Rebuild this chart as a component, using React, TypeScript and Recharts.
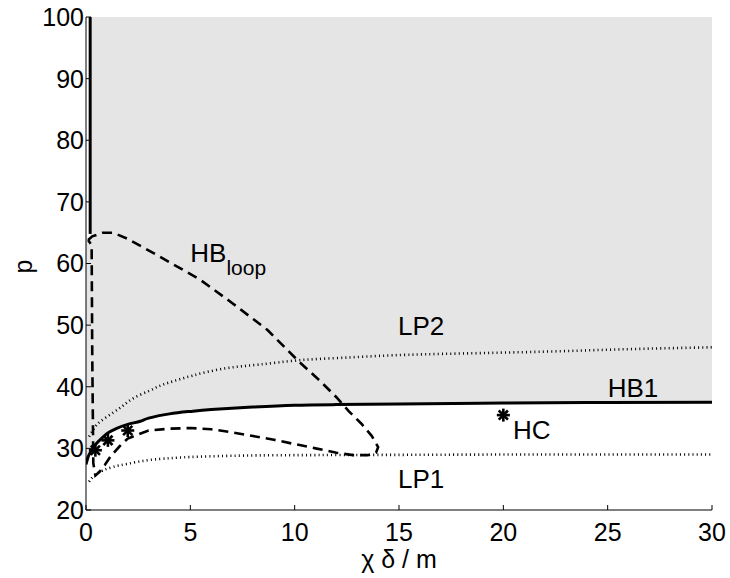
import React from "react";
import { Area, ComposedChart, Line, ReferenceDot, Scatter, XAxis, YAxis } from "recharts";

// HB1 (solid) boundary of the shaded region
const hb1X = [0, 0.1, 0.2, 0.35, 0.5, 0.8, 1.1, 1.5, 2, 2.6, 3, 4, 5, 6, 8, 10, 12, 15, 20, 25, 30];
const hb1P = [27.4, 28.6, 29.3, 30.1, 30.8, 31.8, 32.6, 33.3, 33.9, 34.4, 34.9, 35.6, 36.0, 36.3, 36.7, 37.0, 37.1, 37.2, 37.35, 37.45, 37.5];

// vertical solid branch near the p axis
const wallX = [0.2, 0.2];
const wallP = [64.8, 100];

// HB loop (dashed), closed parametric curve
const loopX = [0.1, 0.3, 0.8, 1.3, 2.0, 3.5, 5.5, 7.0, 8.7, 10.2, 11.2, 12.0, 12.6, 13.2, 13.7, 14.0, 13.9, 13.5, 12.8, 12.0, 11.0, 10.0, 9.0, 8.0, 7.0, 6.0, 5.0, 4.0, 3.0, 2.0, 1.6, 1.2, 0.9, 0.65, 0.45, 0.35, 0.3, 0.27, 0.1];
const loopP = [63.8, 64.4, 65.0, 65.0, 64.0, 61.2, 57.3, 53.6, 49.2, 44.1, 41.0, 38.3, 36.0, 34.0, 32.0, 30.2, 29.3, 28.9, 28.9, 29.3, 30.0, 30.7, 31.4, 32.0, 32.6, 33.1, 33.3, 33.2, 32.9, 31.6, 30.3, 28.8, 27.3, 26.2, 25.6, 27.6, 45.0, 63.0, 63.8];

// limit points (dotted)
const lp2X = [0.15, 0.4, 0.7, 1.3, 1.8, 2.3, 3.0, 3.5, 4.0, 5.1, 6.7, 8.3, 10.2, 12.3, 14.7, 18, 22, 26, 30];
const lp2P = [31.9, 33.3, 34.4, 35.8, 37.0, 38.2, 39.3, 40.1, 40.7, 41.8, 43.0, 43.6, 44.3, 44.7, 45.1, 45.4, 45.7, 46.1, 46.4];
const lp1X = [0.15, 0.4, 0.8, 1.3, 2.0, 3.0, 4.0, 5.0, 7, 10, 15, 20, 25, 30];
const lp1P = [24.6, 25.6, 26.4, 27.0, 27.5, 28.1, 28.4, 28.6, 28.8, 28.9, 28.95, 29.0, 29.0, 29.0];

// special points (asterisks)
const starX = [0.45, 1.05, 2.0, 20.0];
const starP = [29.7, 31.3, 32.9, 35.4];

const xTicks = [0, 5, 10, 15, 20, 25, 30];
const yTicks = [20, 30, 40, 50, 60, 70, 80, 90, 100];

const FONT = "'Liberation Sans', Arial, Helvetica, sans-serif";

const pts = (xs: number[], ps: number[]) => xs.map((x, i) => ({ x, p: ps[i] }));

const shadeTop = 64;
const bandData: { x: number; band: number[] }[] = [];
hb1X.forEach((x, i) => {
  const p = hb1P[i];
  if (x < wallX[0]) bandData.push({ x, band: [p, shadeTop] });
  else if (x === wallX[0]) {
    bandData.push({ x, band: [p, shadeTop] });
    bandData.push({ x, band: [p, 100] });
  } else bandData.push({ x, band: [p, 100] });
});

const Asterisk = (props: any) => {
  const { cx, cy } = props;
  const r = 6.5;
  const d = r * 0.707;
  return (
    <g stroke="#000" strokeWidth={2.6} strokeLinecap="butt">
      <line x1={cx - r} y1={cy} x2={cx + r} y2={cy} />
      <line x1={cx} y1={cy - r} x2={cx} y2={cy + r} />
      <line x1={cx - d} y1={cy - d} x2={cx + d} y2={cy + d} />
      <line x1={cx - d} y1={cy + d} x2={cx + d} y2={cy - d} />
    </g>
  );
};

const Ann = (props: any) => {
  const { viewBox, text, sub } = props;
  return (
    <text x={viewBox.x} y={viewBox.y} fontFamily={FONT} fontSize={26} fill="#000">
      {text}
      {sub && (
        <tspan dy={13} fontSize={21}>
          {sub}
        </tspan>
      )}
    </text>
  );
};

const dotted = { stroke: "#000", strokeWidth: 2.6, strokeDasharray: "1 3.2" };

export default function App() {
  return (
    <div style={{ position: "absolute", left: 0, top: 0, width: 730, height: 578, background: "#fff" }}>
      <ComposedChart width={730} height={578} margin={{ top: 17, right: 18, left: 0, bottom: 0 }}>
        <XAxis
          type="number"
          dataKey="x"
          domain={[0, 30]}
          ticks={xTicks}
          allowDataOverflow
          height={68}
          stroke="#000"
          tickSize={-5}
          tickMargin={18}
          tick={{ fill: "#000", fontSize: 25, fontFamily: FONT }}
          label={{
            content: (lp: any) => {
              const vb = lp.viewBox;
              return (
                <text x={vb.x + vb.width / 2} y={vb.y + 58} textAnchor="middle" fontFamily={FONT} fontSize={25} fill="#000">
                  χ δ / m
                </text>
              );
            },
          }}
        />
        <YAxis
          type="number"
          domain={[20, 100]}
          ticks={yTicks}
          allowDataOverflow
          width={86}
          stroke="#000"
          tickSize={-5}
          tickMargin={7}
          tick={{ fill: "#000", fontSize: 25, fontFamily: FONT }}
          label={{
            content: (lp: any) => {
              const vb = lp.viewBox;
              const cx = vb.x + 32;
              const cy = vb.y + vb.height / 2 + 3;
              return (
                <text x={cx} y={cy} transform={`rotate(-90 ${cx} ${cy})`} textAnchor="middle" fontFamily={FONT} fontSize={25} fill="#000">
                  p
                </text>
              );
            },
          }}
        />
        <Area data={bandData} dataKey="band" type="linear" fill="#e5e5e5" fillOpacity={1} stroke="none" isAnimationActive={false} />
        <Line data={pts(lp1X, lp1P)} dataKey="p" type="natural" {...dotted} dot={false} activeDot={false} isAnimationActive={false} />
        <Line data={pts(lp2X, lp2P)} dataKey="p" type="natural" {...dotted} dot={false} activeDot={false} isAnimationActive={false} />
        <Line data={pts(loopX, loopP)} dataKey="p" type="linear" stroke="#000" strokeWidth={2.6} strokeDasharray="10 6" dot={false} activeDot={false} isAnimationActive={false} />
        <Line data={pts(wallX, wallP)} dataKey="p" type="linear" stroke="#000" strokeWidth={3} dot={false} activeDot={false} isAnimationActive={false} />
        <Line data={pts(hb1X, hb1P)} dataKey="p" type="natural" stroke="#000" strokeWidth={3} dot={false} activeDot={false} isAnimationActive={false} />
        <Scatter data={pts(starX, starP)} dataKey="p" shape={<Asterisk />} isAnimationActive={false} />
        <ReferenceDot x={5.0} y={60.2} r={0} fill="none" stroke="none" label={<Ann text="HB" sub="loop" />} />
        <ReferenceDot x={14.95} y={48.35} r={0} fill="none" stroke="none" label={<Ann text="LP2" />} />
        <ReferenceDot x={25.0} y={38.3} r={0} fill="none" stroke="none" label={<Ann text="HB1" />} />
        <ReferenceDot x={20.46} y={31.5} r={0} fill="none" stroke="none" label={<Ann text="HC" />} />
        <ReferenceDot x={14.95} y={23.5} r={0} fill="none" stroke="none" label={<Ann text="LP1" />} />
      </ComposedChart>
    </div>
  );
}
